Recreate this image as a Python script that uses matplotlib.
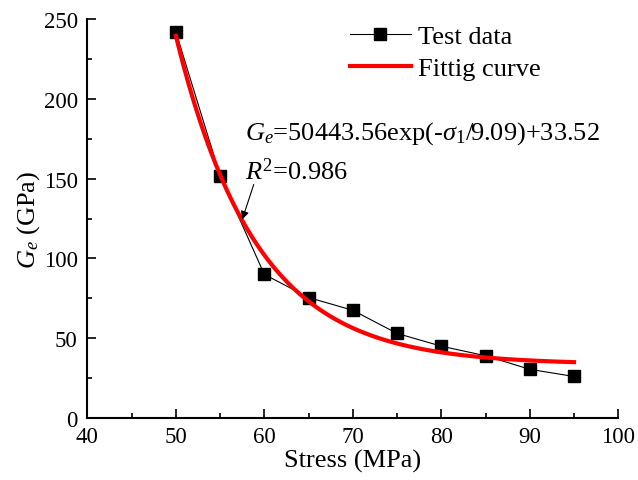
import numpy as np
import matplotlib
matplotlib.use('Agg')
import matplotlib.pyplot as plt

plt.rcParams['font.family'] = ['Liberation Serif', 'DejaVu Serif']
plt.rcParams['mathtext.fontset'] = 'custom'
plt.rcParams['mathtext.rm'] = 'Liberation Serif'
plt.rcParams['mathtext.it'] = 'Liberation Serif:italic'

# measured data
stress = [50, 55, 60, 65, 70, 75, 80, 85, 90, 95]
ge = [242, 152, 90, 75.5, 67.5, 53, 45, 39, 30.5, 26]

# fitted exponential
fit_a, fit_t, fit_c = 50443.56, 9.09, 33.52
xfit = np.linspace(50, 95, 200)
yfit = fit_a * np.exp(-xfit / fit_t) + fit_c

fig = plt.figure(figsize=(6.38, 4.81), dpi=100)
ax = fig.add_axes([0.137, 0.129, 0.832, 0.829])

ax.plot(stress, ge, color='black', lw=0.8, marker='s', markersize=8,
        label='Test data')
ax.plot(xfit, yfit, color='#ff0000', lw=3, label='Fittig curve')

ax.set_xlim(40, 100)
ax.set_ylim(0, 250)
ax.set_xticks(np.arange(40, 101, 10))
ax.set_xticks(np.arange(45, 100, 10), minor=True)
ax.set_yticks(np.arange(0, 251, 50))
ax.set_yticks(np.arange(25, 250, 50), minor=True)
ax.tick_params(which='both', direction='in', labelsize=16.5, width=1.2)
ax.tick_params(which='major', length=6.5)
ax.tick_params(which='minor', length=3.5)
ax.tick_params(axis='x', pad=6)
ax.tick_params(axis='y', pad=7)
for s in ['top', 'right']:
    ax.spines[s].set_visible(False)
for s in ['left', 'bottom']:
    ax.spines[s].set_linewidth(1.5)

ax.set_xlabel('Stress (MPa)', fontsize=19, labelpad=1)
ax.set_ylabel(r'$G_e$ (GPa)', fontsize=19, va='center')
ax.yaxis.set_label_coords(-0.11, 0.5)

ax.annotate('', xy=(57.4, 122.8), xytext=(58.9, 148),
            arrowprops=dict(arrowstyle='-|>', color='black', lw=0.8,
                            mutation_scale=12))
ax.text(57.8, 179, r'$G_e$=50443.56exp(-$\sigma_1$/9.09)+33.52',
        fontsize=19, va='center', ha='left')
ax.text(57.8, 155, r'$R^2$=0.986', fontsize=19, va='center', ha='left')

ax.legend(loc='upper left', bbox_to_anchor=(350 / 638, 1 - 26 / 481),
          bbox_transform=fig.transFigure, frameon=False, fontsize=19,
          handlelength=2.3, handletextpad=0.28, labelspacing=0.3,
          borderpad=0, borderaxespad=0)

fig.savefig('out.png', dpi=100)
